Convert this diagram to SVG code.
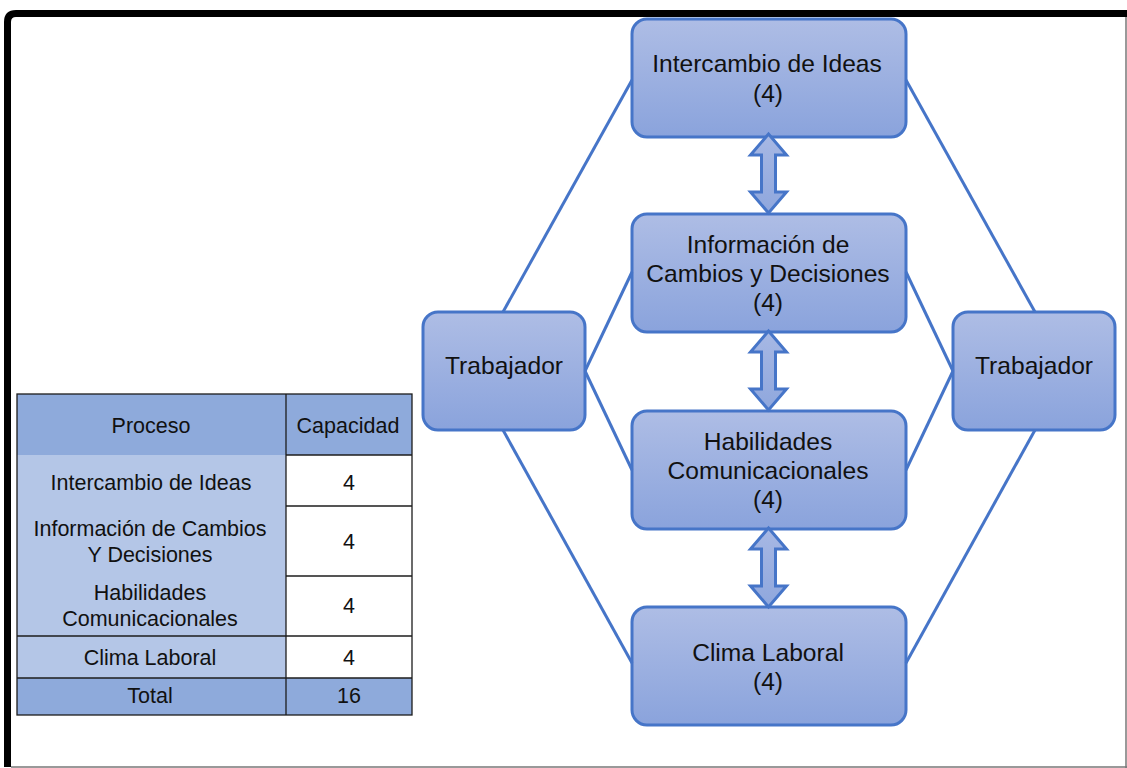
<svg xmlns="http://www.w3.org/2000/svg" width="1127" height="768" viewBox="0 0 1127 768">
  <defs>
    <linearGradient id="boxFill" x1="0" y1="0" x2="0" y2="1">
      <stop offset="0" stop-color="#aebde5"/>
      <stop offset="1" stop-color="#8aa3dc"/>
    </linearGradient>
    <linearGradient id="arrowFill" x1="0" y1="0" x2="0" y2="1">
      <stop offset="0" stop-color="#a7b8e4"/>
      <stop offset="1" stop-color="#8fa7dd"/>
    </linearGradient>
    <!-- vertical double-headed block arrow, 79px long, tip at origin -->
    <path id="dblArrow" d="M0,0 L18,21 L7,21 L7,58 L18,58 L0,79 L-18,58 L-7,58 L-7,21 L-18,21 Z"/>
    <style>
      .box { fill: url(#boxFill); stroke: #4675c8; stroke-width: 3; }
      .lbl { font-family: "Liberation Sans", Arial, sans-serif; font-size: 24.6px; fill: #111; text-anchor: middle; }
      .link { stroke: #4675c8; stroke-width: 3; fill: none; }
      .arrow { fill: url(#arrowFill); stroke: #4675c8; stroke-width: 3; stroke-linejoin: miter; }
      .tt { font-family: "Liberation Sans", Arial, sans-serif; font-size: 21.5px; fill: #111; text-anchor: middle; }
      .grid { stroke: #1c1c1c; stroke-width: 1.3; fill: none; }
    </style>
  </defs>

  <rect width="1127" height="768" fill="#fff"/>

  <!-- page frame -->
  <g id="frame">
    <path d="M7.5,767 V22 Q7.5,13.5 16,13.5 H1127" fill="none" stroke="#000" stroke-width="7"/>
    <line x1="1126" y1="17" x2="1126" y2="768" stroke="#777" stroke-width="1.5"/>
    <line x1="11" y1="767" x2="1127" y2="767" stroke="#777" stroke-width="1.5"/>
  </g>

  <!-- summary table -->
  <g id="table">
    <rect x="17" y="394" width="269" height="61" fill="#8eaadb"/>
    <rect x="286" y="394" width="126" height="61" fill="#8eaadb"/>
    <rect x="17" y="455" width="269" height="223" fill="#b4c6e7"/>
    <rect x="286" y="455" width="126" height="223" fill="#fff"/>
    <rect x="17" y="678" width="395" height="37" fill="#8eaadb"/>
    <rect class="grid" x="17" y="394" width="395" height="321"/>
    <line class="grid" x1="286" y1="394" x2="286" y2="715"/>
    <line class="grid" x1="286" y1="455" x2="412" y2="455"/>
    <line class="grid" x1="286" y1="506" x2="412" y2="506"/>
    <line class="grid" x1="286" y1="576" x2="412" y2="576"/>
    <line class="grid" x1="17" y1="636" x2="412" y2="636"/>
    <line class="grid" x1="17" y1="678" x2="412" y2="678"/>

    <text class="tt" x="151" y="433">Proceso</text>
    <text class="tt" x="348" y="433">Capacidad</text>
    <text class="tt" x="151" y="490">Intercambio de Ideas</text>
    <text class="tt" x="349" y="490">4</text>
    <text class="tt" x="150" y="536">Información de Cambios</text>
    <text class="tt" x="150" y="562">Y Decisiones</text>
    <text class="tt" x="349" y="549">4</text>
    <text class="tt" x="150" y="600">Habilidades</text>
    <text class="tt" x="150" y="626">Comunicacionales</text>
    <text class="tt" x="349" y="613">4</text>
    <text class="tt" x="150" y="665">Clima Laboral</text>
    <text class="tt" x="349" y="665">4</text>
    <text class="tt" x="150" y="703">Total</text>
    <text class="tt" x="349" y="703">16</text>
  </g>

  <!-- nodes -->
  <g id="trabajador-left">
    <rect class="box" x="423" y="312" width="162" height="118" rx="15"/>
    <text class="lbl" x="504" y="374">Trabajador</text>
  </g>
  <g id="trabajador-right">
    <rect class="box" x="953" y="312" width="162" height="118" rx="15"/>
    <text class="lbl" x="1034" y="374">Trabajador</text>
  </g>
  <g id="intercambio">
    <rect class="box" x="632" y="19" width="274" height="118" rx="15"/>
    <text class="lbl" x="767" y="72">Intercambio de Ideas</text>
    <text class="lbl" x="768" y="102">(4)</text>
  </g>
  <g id="informacion">
    <rect class="box" x="632" y="214" width="274" height="118" rx="15"/>
    <text class="lbl" x="768" y="253">Información de</text>
    <text class="lbl" x="768" y="282">Cambios y Decisiones</text>
    <text class="lbl" x="768" y="311">(4)</text>
  </g>
  <g id="habilidades">
    <rect class="box" x="632" y="411" width="274" height="118" rx="15"/>
    <text class="lbl" x="768" y="450">Habilidades</text>
    <text class="lbl" x="768" y="479">Comunicacionales</text>
    <text class="lbl" x="768" y="508">(4)</text>
  </g>
  <g id="clima">
    <rect class="box" x="632" y="607" width="274" height="118" rx="15"/>
    <text class="lbl" x="768" y="661">Clima Laboral</text>
    <text class="lbl" x="768" y="690">(4)</text>
  </g>

  <!-- connectors -->
  <g id="connectors">
    <line class="link" x1="503" y1="312" x2="632" y2="80"/>
    <line class="link" x1="585" y1="371" x2="632" y2="272"/>
    <line class="link" x1="585" y1="371" x2="632" y2="470"/>
    <line class="link" x1="503" y1="430" x2="632" y2="663"/>
    <line class="link" x1="1035" y1="312" x2="906" y2="80"/>
    <line class="link" x1="953" y1="371" x2="906" y2="272"/>
    <line class="link" x1="953" y1="371" x2="906" y2="470"/>
    <line class="link" x1="1035" y1="430" x2="906" y2="663"/>
    <use href="#dblArrow" class="arrow" transform="translate(768.5,134)"/>
    <use href="#dblArrow" class="arrow" transform="translate(768.5,331)"/>
    <use href="#dblArrow" class="arrow" transform="translate(768.5,528)"/>
  </g>
</svg>
